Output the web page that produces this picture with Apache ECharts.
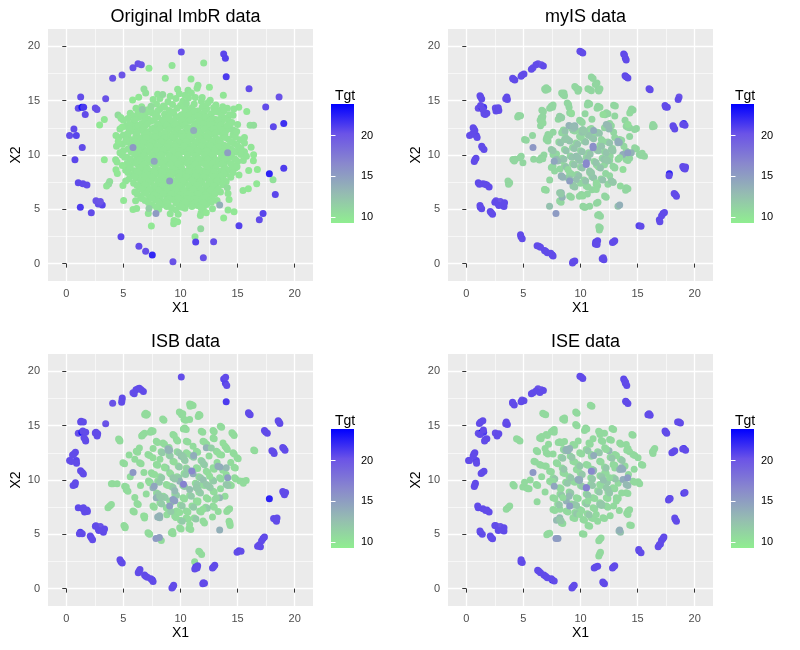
<!DOCTYPE html>
<html>
<head>
<meta charset="utf-8">
<title>ImbR scatter panels</title>
<script src="https://cdn.jsdelivr.net/npm/echarts@6/dist/echarts.min.js"></script>
<style>
  html, body { margin: 0; padding: 0; background: #fff; }
  #main { width: 800px; height: 650px; }
</style>
</head>
<body>
<div id="main"></div>
<script>
// ---- data ----
var panelTitles = ['Original ImbR data', 'myIS data', 'ISB data', 'ISE data'];
var axisTicks = [0, 5, 10, 15, 20];
var minorTicks = [2.5, 7.5, 12.5, 17.5];
var legendTicks = [10, 15, 20];
var tgtRange = [9.27, 23.9];

// rare (high Tgt) originals, present in every panel: [X1, X2, Tgt]
var rarePts = [
  [10.07,19.48,20.5],[13.78,19.3,20.8],[13.93,18.9,21],[14.0,17.2,21.3],[6.28,18.4,20.3],
  [6.57,18.3,20.2],[5.84,18.04,20.4],[4.88,17.37,20.2],[4.06,17.06,20.3],[16.0,16.1,20.5],
  [18.63,15.35,20.3],[17.46,14.43,20.6],[18.13,12.59,20.7],[19.04,12.9,21.8],[19.04,8.79,21.2],
  [17.78,8.27,22.4],[18.3,6.37,20.8],[17.23,4.62,20.9],[16.9,4.04,20.6],[15.12,3.49,21],
  [12.9,2.02,20.4],[11.33,1.99,21],[12.0,0.55,20.3],[9.34,0.18,20.3],[7.53,0.8,22.2],
  [6.95,1.13,20.4],[6.36,1.59,20.5],[4.79,2.48,20.8],[2.19,4.69,20.6],[1.23,5.18,21.3],
  [3.15,5.39,20.9],[2.8,5.5,20.5],[2.6,5.79,20.3],[2.98,5.72,20.2],[1.81,7.23,20.5],
  [1.46,7.35,20.6],[1.05,7.44,20.7],[0.76,9.56,20.8],[1.4,10.69,20.6],[0.29,11.79,20.5],
  [0.88,11.79,20.9],[0.67,12.4,20.6],[1.66,13.72,20.6],[1.05,14.3,20.4],[1.37,14.4,23.2],
  [1.52,14.4,21.4],[1.26,15.34,20.5],[2.54,14.33,20.4],[2.69,14.18,20.4],[3.45,15.19,20.3]
];
// medium Tgt originals
var midPts = [
  [5.84,10.69,15.5],[13.43,5.39,13.8],[7.85,4.62,15.2],[11.15,12.25,14],
  [7.7,9.43,14.5],[9.05,7.6,15],[14.13,10.2,15]
];

// --- Original ImbR ---
var imbrEdge = [
  [12.03,18.47,10],[9.26,18.25,10],[7.24,17.98,9.8],[8.67,17.06,10],[10.92,17.0,9.9],
  [11.53,16.42,10.1],[11.45,16.14,10],[12.53,16.23,9.8],[9.75,16.05,10],[10.66,15.96,10.1],
  [10.95,15.71,10],[6.8,16.08,10.4],[6.95,15.71,10.2],[6.34,15.31,9.8],[5.81,15.07,9.7],
  [8.44,15.56,10.6],[13.75,15.5,9.9],[11.83,14.95,10],[10.51,14.73,10.1],[15.1,14.4,9.8],
  [14.66,14.24,10],[15.8,14.0,9.8],[7.42,14.49,10.5],[6.66,14.18,12],[4.53,13.69,10.6],
  [4.77,13.45,10],[3.33,13.26,9.8],[2.92,12.77,9.7],[16.09,12.74,10.2],[16.4,12.74,10.5],
  [14.1,12.71,10],[14.63,12.28,10.1],[14.92,12.16,10],[4.88,12.56,9.8],[4.35,11.79,9.9],
  [4.55,11.27,9.8],[5.23,11.42,10],[16.18,10.72,9.9],[16.4,10.02,9.8],[15.77,9.89,10],
  [16.38,9.46,9.8],[15.97,8.58,9.8],[16.73,8.67,9.7],[14.95,8.91,10],[15.12,8.15,9.9],
  [16.67,7.35,9.8],[15.94,6.89,9.7],[15.47,6.74,9.9],[18.1,7.72,10.2],[14.1,6.98,10.4],
  [14.16,6.46,10],[14.25,5.91,9.8],[14.69,4.78,9.8],[14.16,4.93,9.9],[13.78,4.2,9.7],
  [12.26,4.69,9.8],[11.74,4.44,10],[11.77,3.22,10.8],[11.27,2.48,9.9],[9.43,3.98,9.8],
  [9.4,3.68,9.9],[9.75,3.86,9.8],[7.45,3.46,9.7],[7.18,4.62,10],[7.24,5.08,11.5],
  [5.84,4.99,9.8],[5.02,5.82,9.8],[6.07,5.79,10],[6.16,5.08,9.9],[4.96,7.2,9.8],
  [3.71,7.32,10.8],[3.53,7.14,10],[3.8,7.57,10.4],[4.47,8.3,9.8],[3.33,9.56,9.7],
  [4.32,9.56,10],[4.35,8.64,9.8],[4.44,9.35,9.9],[5.11,9.8,10],[4.91,9.04,9.8],[4.82,13.35,10]
];
var imbrCoreTgt = 10.0;
var imbrCore = [
  [7.6,15.1],[8.9,14.9],[9.6,15.2],[10.2,14.95],[12.6,15.05],[9.1,15.4],[11.3,15.3],
  [7.9,14.7],[8.5,14.5],[9.3,14.65],[10.0,14.55],[11.2,14.7],[12.0,14.5],[13.1,14.6],[12.4,14.8],
  [6.1,14.3],[7.0,14.15],[8.2,14.25],[9.0,14.1],[9.7,14.3],[10.6,14.2],[11.5,14.05],[12.3,14.25],[13.4,14.1],[14.1,14.3],
  [5.6,13.85],[6.9,13.7],[7.5,13.9],[8.6,13.75],[9.4,13.85],[10.1,13.7],[10.9,13.9],[11.8,13.75],[12.7,13.8],[13.3,13.95],[14.3,13.7],
  [5.4,13.35],[6.3,13.45],[7.2,13.3],[8.0,13.5],[8.8,13.35],[9.6,13.45],[10.4,13.3],[11.1,13.5],[11.9,13.35],[12.5,13.45],[13.0,13.3],[13.9,13.4],
  [5.9,13.05],[6.6,12.9],[7.4,13.1],[8.3,12.95],[9.1,13.05],[9.9,12.9],[10.7,13.1],[11.4,12.95],[12.2,13.05],[12.9,12.9],[13.6,13.05],[14.5,13.0],
  [5.2,12.65],[6.0,12.55],[6.9,12.7],[7.7,12.5],[8.5,12.65],[9.3,12.55],[10.1,12.7],[10.8,12.5],[11.6,12.65],[12.4,12.55],[13.2,12.7],[13.8,12.5],
  [5.7,12.2],[6.4,12.3],[7.2,12.15],[8.0,12.25],[8.8,12.1],[9.6,12.3],[10.4,12.15],[11.0,12.3],[11.8,12.1],[12.6,12.25],[13.4,12.15],[14.0,12.3],
  [5.0,11.85],[6.1,11.75],[6.8,11.9],[7.5,11.7],[8.3,11.85],[9.1,11.75],[9.9,11.9],[10.6,11.7],[11.4,11.85],[12.1,11.75],[12.9,11.9],[13.7,11.7],[14.6,11.85],
  [5.8,11.4],[6.5,11.5],[7.2,11.35],[8.0,11.45],[8.7,11.3],[9.5,11.5],[10.2,11.35],[11.0,11.45],[11.7,11.3],[12.5,11.5],[13.3,11.35],[14.2,11.45],[15.2,11.4],
  [4.9,11.0],[5.6,11.1],[6.3,10.95],[7.0,11.05],[7.8,10.9],[8.5,11.1],[9.3,10.95],[10.0,11.05],[10.8,10.9],[11.5,11.1],[12.3,10.95],[13.0,11.05],[13.8,10.9],[14.7,11.05],
  [5.4,10.55],[6.1,10.65],[6.8,10.5],[7.5,10.7],[8.3,10.55],[9.0,10.65],[9.8,10.5],[10.5,10.7],[11.3,10.55],[12.0,10.65],[12.8,10.5],[13.5,10.7],[14.4,10.55],[15.3,10.6],
  [4.7,10.2],[5.7,10.25],[6.5,10.1],[7.2,10.3],[8.0,10.15],[8.7,10.25],[9.5,10.1],[10.3,10.3],[11.0,10.15],[11.8,10.25],[12.5,10.1],[13.3,10.3],[14.0,10.15],[14.9,10.25],
  [5.3,9.8],[6.2,9.7],[6.9,9.85],[7.6,9.75],[8.4,9.9],[9.1,9.7],[9.9,9.85],[10.6,9.75],[11.4,9.9],[12.1,9.7],[12.9,9.85],[13.6,9.75],[14.5,9.8],
  [5.9,9.4],[6.6,9.5],[7.3,9.35],[8.1,9.45],[8.8,9.3],[9.6,9.5],[10.3,9.35],[11.1,9.45],[11.8,9.3],[12.6,9.5],[13.3,9.35],[14.1,9.45],[15.0,9.4],
  [5.6,9.0],[6.3,9.1],[7.0,8.95],[7.8,9.05],[8.5,8.9],[9.3,9.1],[10.0,8.95],[10.8,9.05],[11.5,8.9],[12.3,9.1],[13.0,8.95],[13.8,9.05],[14.6,9.0],
  [5.2,8.6],[6.0,8.55],[6.7,8.7],[7.4,8.5],[8.2,8.65],[8.9,8.55],[9.7,8.7],[10.4,8.5],[11.2,8.65],[11.9,8.55],[12.7,8.7],[13.5,8.5],[14.3,8.6],
  [5.8,8.2],[6.5,8.3],[7.2,8.15],[7.9,8.25],[8.7,8.1],[9.4,8.3],[10.2,8.15],[10.9,8.25],[11.7,8.1],[12.4,8.3],[13.2,8.15],[14.0,8.25],
  [5.5,7.8],[6.2,7.9],[7.0,7.75],[7.7,7.85],[8.4,7.7],[9.2,7.9],[9.9,7.75],[10.7,7.85],[11.4,7.7],[12.2,7.9],[12.9,7.75],[13.7,7.85],
  [5.9,7.4],[6.7,7.35],[7.4,7.5],[8.1,7.3],[8.9,7.45],[9.6,7.35],[10.4,7.5],[11.1,7.3],[11.9,7.45],[12.6,7.35],[13.4,7.5],
  [6.4,7.0],[7.1,7.1],[7.9,6.95],[8.6,7.05],[9.3,6.9],[10.1,7.1],[10.8,6.95],[11.6,7.05],[12.3,6.9],[13.1,7.05],
  [6.0,6.6],[6.8,6.7],[7.6,6.55],[8.3,6.65],[9.0,6.5],[9.8,6.7],[10.5,6.55],[11.3,6.65],[12.0,6.5],[12.8,6.7],[13.5,6.6],
  [6.5,6.2],[7.3,6.15],[8.0,6.3],[8.8,6.1],[9.5,6.25],[10.3,6.15],[11.0,6.3],[11.8,6.1],[12.5,6.25],
  [6.9,5.8],[7.8,5.85],[8.6,5.7],[9.3,5.9],[10.1,5.75],[10.9,5.85],[11.6,5.7],[12.4,5.9],[13.2,5.8],
  [7.5,5.4],[8.4,5.45],[9.9,5.35],[10.7,5.5],[11.5,5.35],[12.3,5.45],
  [8.1,5.0],[9.6,4.95],[10.4,5.1],[12.0,5.0],[12.8,5.05],
  [9.1,4.6],[9.8,4.55],[11.8,4.65]
];
// second pass over the dense centre of the original data
var imbrFill = [
  [6.6,14.45],[7.4,14.35],[8.6,14.4],[10.3,14.45],[11.0,14.35],[11.9,14.4],[12.9,14.35],[13.7,14.45],
  [6.3,13.95],[7.2,14.0],[8.0,14.05],[9.3,13.95],[10.4,14.0],[11.2,14.05],[12.1,13.95],[13.0,14.0],[13.8,14.05],
  [5.9,13.6],[6.6,13.55],[7.8,13.65],[9.0,13.6],[9.9,13.55],[10.7,13.65],[11.5,13.6],[12.2,13.55],[13.6,13.6],[14.6,13.65],
  [5.0,13.2],[6.0,13.25],[6.9,13.15],[7.7,13.2],[8.5,13.25],[9.4,13.15],[10.1,13.2],[10.9,13.25],[11.6,13.15],[12.6,13.2],[13.3,13.25],[14.2,13.15],
  [5.5,12.8],[6.3,12.75],[7.1,12.85],[8.0,12.8],[8.8,12.75],[9.6,12.85],[10.4,12.8],[11.2,12.75],[12.0,12.85],[12.7,12.8],[13.5,12.75],[14.3,12.85],[15.0,12.8],
  [4.7,12.4],[5.5,12.45],[6.7,12.35],[7.5,12.4],[8.2,12.45],[9.0,12.35],[9.8,12.4],[10.6,12.45],[11.3,12.35],[12.1,12.4],[12.9,12.45],[13.6,12.35],[14.4,12.4],
  [5.4,12.0],[6.2,12.05],[7.0,11.95],[7.8,12.0],[8.6,12.05],[9.4,11.95],[10.1,12.0],[10.9,12.05],[11.6,11.95],[12.4,12.0],[13.1,12.05],[13.9,11.95],[14.8,12.0],
  [4.6,11.6],[5.4,11.65],[6.4,11.55],[7.0,11.6],[7.8,11.65],[8.6,11.55],[9.3,11.6],[10.1,11.65],[10.8,11.55],[11.6,11.6],[12.3,11.65],[13.1,11.55],[13.9,11.6],[14.8,11.65],[15.6,11.6],
  [5.2,11.2],[6.0,11.25],[6.7,11.15],[7.5,11.2],[8.3,11.25],[9.0,11.15],[9.8,11.2],[10.5,11.25],[11.3,11.15],[12.0,11.2],[12.8,11.25],[13.5,11.15],[14.4,11.2],[15.6,11.1],
  [4.4,10.8],[5.9,10.85],[6.6,10.75],[7.3,10.8],[8.0,10.85],[8.8,10.75],[9.6,10.8],[10.3,10.85],[11.1,10.75],[11.8,10.8],[12.6,10.85],[13.3,10.75],[14.1,10.8],[15.0,10.85],
  [5.0,10.4],[6.3,10.45],[7.0,10.35],[7.8,10.4],[8.5,10.45],[9.3,10.35],[10.0,10.4],[10.8,10.45],[11.5,10.35],[12.3,10.4],[13.0,10.45],[13.8,10.35],[14.6,10.4],[15.6,10.3],
  [4.9,10.0],[6.0,10.05],[6.8,9.95],[7.5,10.0],[8.3,10.05],[9.0,9.95],[9.8,10.0],[10.6,10.05],[11.3,9.95],[12.1,10.0],[12.8,10.05],[13.6,9.95],[14.4,10.0],[15.3,10.05],
  [5.6,9.6],[6.4,9.55],[7.1,9.65],[7.9,9.6],[8.6,9.55],[9.4,9.65],[10.1,9.6],[10.9,9.55],[11.6,9.65],[12.4,9.6],[13.1,9.55],[13.9,9.65],[14.8,9.6],[15.5,9.5],
  [5.3,9.2],[6.1,9.25],[6.8,9.15],[7.6,9.2],[8.3,9.25],[9.1,9.15],[9.8,9.2],[10.6,9.25],[11.3,9.15],[12.1,9.2],[12.8,9.25],[13.6,9.15],[14.4,9.2],
  [5.6,8.8],[6.4,8.85],[7.1,8.75],[7.8,8.8],[8.6,8.85],[9.3,8.75],[10.1,8.8],[10.8,8.85],[11.6,8.75],[12.3,8.8],[13.1,8.85],[13.9,8.75],[14.8,8.8],
  [5.4,8.4],[6.2,8.45],[6.9,8.35],[7.7,8.4],[8.4,8.45],[9.2,8.35],[9.9,8.4],[10.7,8.45],[11.4,8.35],[12.2,8.4],[12.9,8.45],[13.8,8.35],[14.6,8.4],
  [6.0,8.0],[6.8,8.05],[7.5,7.95],[8.3,8.0],[9.0,8.05],[9.8,7.95],[10.5,8.0],[11.3,8.05],[12.0,7.95],[12.8,8.0],[13.5,8.05],[14.4,7.95],
  [5.2,7.6],[6.5,7.65],[7.2,7.55],[8.0,7.6],[8.7,7.65],[9.5,7.55],[10.2,7.6],[11.0,7.65],[11.7,7.55],[12.5,7.6],[13.2,7.65],[14.0,7.55],
  [6.2,7.2],[6.9,7.25],[7.7,7.15],[8.4,7.2],[9.2,7.25],[9.9,7.15],[10.7,7.2],[11.4,7.25],[12.2,7.15],[12.9,7.2],[13.7,7.25],
  [6.6,6.85],[7.3,6.8],[8.1,6.75],[8.8,6.85],[9.6,6.8],[10.3,6.75],[11.1,6.85],[11.8,6.8],[12.6,6.75],[13.3,6.85],
  [6.2,6.4],[7.0,6.45],[7.7,6.35],[8.5,6.4],[9.2,6.45],[10.0,6.35],[10.7,6.4],[11.5,6.45],[12.2,6.35],[13.0,6.4],
  [6.6,6.0],[7.5,6.05],[8.2,5.95],[9.0,6.0],[9.8,6.05],[10.6,5.95],[11.3,6.0],[12.1,6.05],[12.8,5.95],
  [7.2,5.6],[8.1,5.65],[8.9,5.55],[9.6,5.6],[10.4,5.65],[11.2,5.55],[12.0,5.6],[12.7,5.65],
  [7.9,5.2],[8.8,5.25],[9.2,5.15],[10.1,5.2],[11.0,5.25],[11.8,5.15],
  [8.2,15.2],[10.7,15.25],[11.9,15.3],[8.0,15.6],[9.9,15.65],[10.4,15.5]
];

// --- myIS ---
var nearTgt = 20.6;
var myisNear = [
  [10.2,19.4],[9.95,19.55],[13.85,19.2],[14.0,18.75],[14.15,17.1],[13.9,17.3],[6.1,18.3],[6.75,18.2],
  [5.7,17.9],[5.05,17.45],[4.8,17.25],[4.25,16.9],[4.1,17.0],[16.1,16.0],[18.55,15.1],[17.6,14.4],
  [17.4,14.55],[18.25,12.4],[18.1,12.7],[19.15,12.75],[18.95,12.8],[19.15,8.7],[18.95,8.95],[19.2,8.9],
  [17.75,8.1],[18.4,6.2],[18.2,6.45],[17.1,4.4],[17.35,4.7],[16.95,3.85],[15.3,3.45],[13.0,2.1],
  [12.8,1.95],[11.5,2.1],[11.3,1.8],[11.45,1.75],[12.05,0.35],[11.9,0.45],[9.5,0.25],[9.3,0.05],
  [7.6,0.7],[7.4,0.95],[7.1,1.0],[6.85,1.2],[6.5,1.5],[6.2,1.65],[4.9,2.3],[4.75,2.65],
  [2.3,4.55],[2.1,4.8],[1.35,5.05],[1.2,5.35],[3.3,5.25],[2.85,5.35],[3.35,5.6],[2.5,5.65],
  [2.0,7.05],[1.65,7.3],[1.15,7.3],[0.85,9.7],[0.7,9.4],[1.55,10.5],[1.35,10.8],[0.5,11.9],
  [0.95,11.6],[0.75,12.25],[0.6,12.5],[1.8,13.85],[1.55,13.8],[1.25,14.55],[1.45,14.2],[1.35,15.15],
  [1.2,15.45],[2.85,14.1],[2.6,14.05],[2.8,14.35],[3.6,15.1],[3.55,15.35]
];
var myisCoreTgt = 11.0;
var myisCore = [
  [10.95,17.18],[11.44,16.63],[11.53,16.02],[11.6,15.9],[10.8,16.02],[10.95,15.92],[9.63,16.17],[9.78,15.87],
  [9.85,16.05],[6.86,16.08],[7.0,16.2],[6.95,15.95],[8.46,15.56],[8.35,15.7],[8.6,15.45],[10.65,14.79],
  [10.6,14.6],[8.84,14.79],[12.9,14.58],[14.47,14.24],[14.4,14.05],[12.26,13.88],[12.15,13.7],[7.44,14.49],
  [7.3,14.3],[7.55,14.4],[6.62,14.11],[6.56,13.42],[6.47,13.2],[6.7,13.55],[8.17,13.51],[8.05,13.3],
  [9.05,13.88],[11.53,14.49],[11.45,14.3],[4.58,13.63],[4.75,13.62],[9.92,13.2],[10.15,13.0],[10.8,12.35],
  [11.24,12.1],[12.4,12.8],[12.7,12.7],[14.0,12.65],[14.74,12.35],[14.3,12.5],[16.34,12.8],[16.3,12.6],
  [16.45,12.65],[5.1,11.43],[7.15,11.89],[7.05,11.6],[8.46,12.19],[8.6,11.95],[9.34,12.28],[9.92,11.73],
  [11.82,11.43],[13.43,11.43],[14.74,10.66],[14.0,10.36],[15.15,10.05],[15.6,9.89],[15.4,10.15],[4.08,9.59],
  [4.81,9.89],[4.96,9.28],[4.3,9.6],[6.56,9.74],[6.4,9.55],[7.59,10.05],[8.17,9.59],[11.38,9.13],
  [12.4,9.59],[12.84,8.97],[14.0,9.59],[14.3,9.7],[7.59,8.97],[7.73,8.52],[9.05,8.36],[10.5,7.14],
  [11.38,7.29],[12.69,7.6],[12.55,8.1],[3.65,7.6],[3.7,7.3],[6.86,6.83],[9.05,6.22],[10.07,6.37],
  [12.11,6.22],[14.0,6.98],[13.95,6.75],[8.17,5.76],[10.21,5.29],[10.8,5.29],[11.53,5.66],[11.61,4.53],
  [11.73,3.31],[11.65,3.1],[11.75,4.35],[10.4,5.2],
  [8.5,12.3],[9.2,12.5],[10.0,12.2],[10.6,11.9],[11.5,12.1],[12.1,12.5],[12.9,12.1],[8.1,11.2],
  [8.9,11.4],[9.6,11.1],[10.3,11.3],[11.0,11.6],[11.7,10.9],[12.4,11.2],[13.0,11.6],[8.6,10.5],
  [9.3,10.7],[10.0,10.4],[10.7,10.2],[11.4,10.5],[12.1,10.3],[12.8,10.6],[7.9,10.1],[8.4,9.7],
  [9.1,9.9],[9.8,9.6],[10.5,9.8],[11.2,9.4],[11.9,9.7],[12.6,9.9],[13.3,9.6],[8.6,9.0],
  [9.3,9.2],[10.0,8.9],[10.8,8.4],[11.6,8.9],[12.2,8.3],[13.0,8.8],[8.2,8.7],[8.9,7.9],
  [9.7,8.2],[10.3,7.7],[11.0,8.0],[11.8,7.8],[12.4,7.3],[9.4,7.2],[10.0,7.4],[9.9,6.2],
  [10.6,6.4],[11.0,6.8],[5.8,11.8],[6.5,12.7],[7.6,12.1],[5.9,9.6],[6.8,10.0],[7.3,7.7],
  [13.8,10.8],[14.3,11.7],[13.9,13.2],[13.0,13.6],[10.4,13.8],[11.0,13.3],[9.0,14.4],[12.1,9.1],
  [11.1,17.05],[11.3,16.5],[11.7,16.1],[10.65,16.1],[9.5,16.3],[7.15,16.05],[8.55,15.7],[10.8,14.7],
  [8.95,14.65],[13.05,14.5],[14.6,14.15],[12.4,13.8],[7.6,14.6],[6.75,14.0],[6.65,13.3],[8.3,13.4],
  [9.2,13.8],[11.7,14.4],[4.5,13.5],[10.05,13.1],[10.95,12.45],[11.4,12.0],[12.55,12.9],[14.15,12.55],
  [14.9,12.45],[5.25,11.35],[7.3,11.8],[8.35,12.05],[9.5,12.2],[10.05,11.6],[11.95,11.3],[13.6,11.35],
  [14.9,10.55],[14.15,10.25],[15.3,9.95],[4.2,9.45],[4.7,9.75],[6.7,9.65],[7.75,9.95],[8.3,9.5],
  [11.5,9.0],[12.55,9.5],[13.0,8.85],[14.15,9.5],[7.45,8.85],[9.2,8.25],[10.65,7.05],[11.5,7.2],
  [12.85,7.5],[3.8,7.45],[7.0,6.75],[9.2,6.1],[10.2,6.3],[12.25,6.1],[14.15,6.9],[8.3,5.65],
  [10.35,5.2],[11.4,5.55],[11.5,4.45],[11.6,3.4]
];
var myisTealTgt = 12.3;
var myisTeal = [
  [8.65,12.2],[9.35,12.4],[10.15,12.1],[10.75,11.8],[11.65,12.0],[8.25,11.1],[9.05,11.3],[9.75,11.0],
  [10.45,11.2],[11.15,11.5],[11.85,10.8],[12.55,11.1],[8.75,10.4],[9.45,10.6],[10.15,10.3],[10.85,10.1],
  [11.55,10.4],[12.25,10.2],[8.55,9.6],[9.25,9.8],[9.95,9.5],[10.65,9.7],[11.35,9.3],[12.05,9.6],
  [8.75,8.9],[9.45,9.1],[10.15,8.8],[10.95,8.3],[11.75,8.8],[9.05,7.8],[9.85,8.1],[10.45,7.6],
  [11.15,7.9],[11.95,7.7]
];
var myisGrey = [
  [8.99,12.71,13.5],[13.28,11.12,13],[9.63,9.89,12.5],[8.32,8.06,13],[9.63,7.75,12.5],[8.32,6.52,13],
  [7.29,5.29,12.5],[13.28,5.29,12.5],[13.7,10.05,14],[9.5,12.7,13.5],[12.5,12.4,13],[10.5,9.13,16.5],
  [11.1,10.66,16],[8.4,6.1,13.5],
  [8.17,13.57,11.5],[8.35,13.45,11.5],[9.2,13.87,10.5],[9.34,12.65,13],[9.5,12.55,13],[12.26,12.8,13],
  [12.45,12.7,13],[11.97,13.72,10.5],[14.16,12.8,10.5],[7.0,11.42,11],[7.15,11.3,11],[8.6,11.42,12],
  [8.75,11.55,12],[10.2,12.34,12],[10.35,12.2,12],[11.1,10.81,16],[13.28,11.27,14],[13.4,11.15,14],
  [14.45,10.2,13.5],[12.7,10.5,12],[12.85,10.4,12],[9.64,9.89,12.5],[9.8,9.75,12.5],[10.51,9.28,16.5],
  [7.88,9.59,13],[8.0,9.45,13],[12.26,9.59,12],[12.4,9.45,12],[13.72,8.67,10.5],[8.32,8.06,13.5],
  [8.45,7.95,13.5],[9.34,7.14,12],[9.5,7.05,12],[11.38,7.45,10.8],[12.7,7.6,12],[12.85,7.5,12],
  [8.17,6.52,12],[8.3,6.4,12],[10.2,6.22,10.8],[11.38,6.83,10.8],[6.86,6.83,10.8],[13.49,7.14,10.8],
  [6.72,12.95,10.8],[14.31,13.87,10.8],[7.44,10.5,12],[7.6,10.4,12],[8.9,8.67,10.8],[10.8,8.52,12],
  [10.95,8.4,12],[13.43,9.74,10.8]
];

// --- ISB ---
var isbNear = [
  [13.95,19.45],[14.05,18.7],[6.1,18.3],[6.75,18.15],[5.95,17.95],[6.4,18.45],[4.9,17.55],[4.85,17.15],
  [16.1,16.0],[15.95,16.2],[18.7,15.2],[18.55,15.45],[17.6,14.3],[17.35,14.55],[18.2,12.45],[18.0,12.7],
  [19.15,12.75],[18.95,13.0],[19.1,8.65],[18.95,8.95],[19.2,8.85],[18.4,6.2],[18.15,6.45],[18.45,6.5],
  [17.1,4.4],[17.35,4.75],[16.75,3.9],[17.0,3.85],[15.3,3.45],[14.95,3.35],[13.0,2.15],[12.8,1.9],
  [11.5,2.1],[11.25,1.8],[11.45,1.9],[11.95,0.45],[12.1,0.5],[9.25,0.05],[9.4,0.3],[7.6,0.65],
  [7.4,0.9],[7.1,1.05],[6.85,1.25],[6.45,1.75],[6.3,1.45],[4.9,2.35],[4.7,2.65],[2.3,4.5],
  [2.1,4.85],[1.4,5.05],[1.15,5.05],[3.25,5.2],[3.35,5.5],[2.85,5.35],[2.55,5.75],[1.6,7.05],
  [1.85,7.1],[1.5,7.45],[0.6,9.5],[0.8,9.75],[1.5,10.55],[1.25,10.85],[0.45,11.7],[0.9,11.55],
  [0.8,12.55],[0.55,12.3],[1.7,13.6],[1.55,13.9],[1.45,14.5],[1.7,14.4],[1.3,15.4],[1.5,15.35],
  [2.7,14.05],[2.6,14.4],[2.75,14.25]
];
var isbCoreTgt = 10.6;
var isbCore = [
  [10.95,16.94],[10.8,17.0],[11.1,16.85],[10.01,16.17],[10.1,16.0],[9.9,16.25],[11.62,16.02],[11.55,15.85],
  [6.86,16.02],[7.0,15.95],[6.95,16.15],[8.44,15.62],[10.3,15.6],[10.8,15.56],[13.49,14.95],[11.82,14.49],
  [10.37,14.79],[10.5,14.65],[7.45,14.55],[7.6,14.5],[7.35,14.4],[9.34,14.18],[6.72,14.18],[6.85,14.3],
  [6.6,14.05],[12.85,14.55],[14.6,14.24],[14.7,14.1],[14.5,14.35],[4.58,13.78],[4.7,13.6],[7.88,13.57],
  [8.47,13.41],[9.64,13.72],[10.51,13.57],[11.97,13.57],[12.85,13.87],[14.01,12.96],[14.1,12.8],[13.9,13.1],
  [16.41,12.77],[6.13,12.65],[6.4,12.95],[7.15,12.34],[10.51,12.5],[11.39,12.65],[13.14,12.65],[14.6,12.5],
  [14.95,12.04],[4.96,11.58],[6.42,11.58],[7.88,11.42],[9.34,11.73],[11.39,11.12],[12.85,11.12],[14.69,11.18],
  [7.45,10.66],[9.05,10.66],[12.26,10.81],[13.43,10.2],[14.74,10.2],[15.47,9.89],[15.2,9.9],[15.75,9.95],
  [15.5,9.7],[4.09,9.65],[3.95,9.65],[4.45,9.65],[5.11,9.43],[5.4,8.97],[5.25,9.1],[8.76,9.59],
  [11.97,9.59],[12.85,8.97],[14.31,9.59],[9.05,8.06],[10.22,8.36],[11.39,8.06],[12.26,8.36],[3.8,7.6],
  [3.65,7.45],[3.95,7.75],[6.19,7.84],[7.59,7.6],[8.76,7.44],[9.64,7.14],[10.51,7.14],[11.68,7.14],
  [12.85,7.6],[14.16,7.23],[14.05,7.1],[14.3,7.35],[5.84,7.14],[6.77,6.68],[6.85,6.5],[9.49,6.68],
  [10.51,6.52],[11.97,6.22],[12.1,6.05],[14.31,6.0],[14.25,6.2],[14.35,5.8],[5.05,5.82],[5.15,5.6],
  [9.93,5.6],[10.74,5.54],[10.9,5.45],[7.15,5.15],[7.3,5.0],[8.32,4.44],[9.2,5.15],[9.35,5.05],
  [11.68,3.37],[11.6,3.45],[11.85,3.15],[11.24,2.48],
  [8.3,12.6],[9.0,12.3],[9.7,12.6],[10.3,11.9],[11.0,12.2],[11.8,11.8],[12.5,12.2],[8.2,11.9],
  [8.6,11.2],[9.8,11.3],[10.5,11.1],[12.0,11.5],[13.2,11.6],[6.8,10.7],[8.2,10.3],[9.7,10.3],
  [10.3,10.6],[11.6,10.3],[12.8,10.0],[14.0,10.5],[6.5,9.5],[7.2,9.9],[8.0,9.9],[9.2,9.4],
  [10.2,9.5],[11.3,9.7],[12.5,9.4],[13.5,9.2],[7.0,8.7],[7.9,8.8],[8.5,8.5],[9.5,8.7],
  [10.8,8.6],[11.6,8.9],[13.0,8.2],[13.9,8.5],[8.2,7.9],[9.0,7.2],[10.0,7.7],[11.0,7.6],
  [12.2,7.5],[13.3,7.1],[8.8,6.8],[10.0,6.3],[11.2,6.5],[12.8,6.6],[13.7,10.9],[5.6,10.3],
  [6.0,8.4],[7.6,12.9],[9.0,13.0],[11.1,13.1],[12.3,13.3],[13.6,12.3],[14.4,11.6],[6.0,11.9],[5.5,12.3],
  [10.85,16.8],[10.2,16.1],[11.7,15.95],[7.1,16.05],[8.55,15.5],[10.45,15.5],[13.6,14.85],[11.95,14.4],
  [10.25,14.7],[7.5,14.45],[9.45,14.1],[6.65,14.1],[12.95,14.45],[4.65,13.7],[8.0,13.45],[8.6,13.3],
  [9.75,13.6],[10.65,13.5],[12.1,13.5],[12.95,13.8],[16.5,12.7],[6.25,12.55],[7.3,12.25],[10.65,12.4],
  [11.5,12.55],[13.25,12.55],[14.7,12.4],[15.05,11.95],[5.1,11.5],[6.55,11.5],[8.0,11.35],[9.45,11.65],
  [11.5,11.05],[12.95,11.0],[14.8,11.1],[7.55,10.55],[9.15,10.55],[12.4,10.7],[13.55,10.1],[14.85,10.1],
  [5.25,9.35],[8.9,9.5],[12.1,9.5],[12.95,8.9],[14.45,9.5],[9.2,7.95],[10.35,8.25],[11.5,7.95],
  [12.4,8.25],[6.3,7.75],[7.7,7.5],[8.9,7.35],[9.75,7.05],[10.65,7.05],[11.8,7.05],[12.95,7.5],
  [5.95,7.05],[9.6,6.55],[10.65,6.4],[5.15,5.7],[10.05,5.5],[7.25,5.05],[9.3,5.25]
];
var isbTealTgt = 11.8;
var isbTeal = [
  [8.4,12.5],[9.1,12.2],[9.85,12.5],[10.4,11.8],[11.15,12.1],[11.9,11.7],[8.75,11.1],[9.9,11.2],
  [10.6,11.0],[12.1,11.4],[8.35,10.2],[9.85,10.2],[10.45,10.5],[11.75,10.2],[12.9,9.9],[7.35,9.8],
  [8.15,9.8],[9.35,9.3],[10.35,9.4],[11.45,9.6],[12.6,9.3],[8.05,8.7],[8.65,8.4],[9.65,8.6],
  [10.95,8.5],[11.75,8.8],[8.35,7.8],[9.15,7.1],[10.15,7.6],[11.15,7.5],[12.35,7.4],[10.15,6.2],[11.35,6.4]
];
var isbGrey = [
  [8.91,12.71,13],[12.26,12.96,13.5],[10.07,12.19,13.5],[14.01,11.12,13],[11.1,10.57,14],[7.59,9.28,13.5],
  [9.93,9.89,13.5],[10.8,9.13,12.5],[7.88,8.36,13.5],[13.43,8.36,13],[8.18,6.52,13],[8.15,4.7,15],
  [12.0,10.0,12.5],[9.5,9.0,13],
  [8.9,12.87,13.5],[9.05,12.75,13.5],[10.1,12.28,12],[10.25,12.15,12],[10.99,10.83,16.5],[10.26,9.6,17],
  [9.34,8.21,15],[9.5,8.1,15],[8.17,6.7,13.5],[8.0,6.6,13.5],[12.26,9.59,12],[12.4,9.5,12],
  [13.28,11.27,14],[13.45,11.2,14],[12.7,12.95,11.5],[13.72,13.4,10.5],[7.59,12.04,10.5],[7.3,9.74,10.5],
  [8.17,8.52,12],[8.3,8.4,12],[9.93,7.0,10.5],[11.53,8.06,10.5],[13.14,8.36,11],[14.31,6.06,10.5],
  [6.86,6.67,10.5],[10.8,5.9,10.5],[11.97,7.3,10.5],[14.0,9.59,12],[14.15,9.5,12],[12.55,10.35,10.5],
  [8.61,11.12,10.5],[9.34,10.2,12],[9.5,10.1,12],[11.38,9.28,12],[11.55,9.15,12],[7.73,10.5,10.5],
  [13.43,12.35,10.5]
];

// --- ISE ---
var iseNear = [
  [10.2,19.35],[9.95,19.55],[13.85,19.15],[14.05,18.7],[13.95,19.0],[14.15,17.05],[13.95,17.25],[6.1,18.2],
  [6.75,18.25],[5.7,17.95],[6.45,18.05],[5.05,17.3],[4.8,17.2],[4.2,16.9],[4.05,17.15],[16.1,15.95],
  [15.9,16.0],[18.5,15.35],[18.75,15.25],[17.55,14.3],[17.4,14.5],[18.0,12.5],[18.25,12.7],[19.2,12.75],
  [18.95,12.85],[19.15,8.85],[17.7,8.15],[17.85,8.3],[18.4,6.2],[18.25,6.5],[17.1,4.45],[17.3,4.75],
  [16.8,3.85],[17.0,4.1],[15.3,3.3],[15.1,3.6],[13.0,2.1],[12.8,1.9],[11.5,2.05],[11.2,1.9],
  [12.1,0.45],[11.95,0.6],[9.45,0.3],[9.25,0.05],[7.7,0.7],[7.45,0.9],[7.1,1.0],[6.8,1.25],
  [6.5,1.45],[6.25,1.7],[4.9,2.4],[4.8,2.65],[2.3,4.6],[2.1,4.85],[1.4,5.0],[1.2,5.3],
  [3.3,5.3],[3.3,5.6],[2.5,5.8],[2.8,5.35],[2.0,7.05],[1.7,7.2],[1.0,7.6],[0.8,9.7],
  [0.7,9.4],[1.55,10.8],[1.3,10.6],[0.2,11.8],[0.9,11.55],[0.6,12.2],[0.75,12.5],[1.8,13.8],
  [1.6,13.6],[1.2,14.2],[1.5,14.6],[1.45,15.45],[1.15,15.2],[2.7,14.05],[2.85,14.25],[3.6,15.1],[3.5,15.35]
];
var iseCoreTgt = 10.8;
var iseCore = [
  [10.86,16.88],[9.58,16.26],[6.8,16.08],[6.95,16.0],[6.7,16.15],[8.44,15.62],[8.6,15.5],[9.58,15.1],
  [10.45,14.79],[10.35,14.55],[11.59,14.49],[11.7,14.2],[12.76,14.73],[14.6,14.12],[14.5,14.2],[7.59,14.55],
  [7.45,14.45],[7.7,14.65],[7.0,14.18],[4.53,13.72],[4.7,13.6],[4.4,13.8],[6.42,13.87],[6.6,14.0],
  [8.18,13.51],[8.05,13.45],[8.6,13.55],[9.34,13.26],[10.74,13.41],[11.82,13.63],[12.55,13.72],[13.43,13.41],
  [14.16,12.89],[14.05,12.75],[14.3,12.6],[16.41,12.77],[16.3,12.6],[16.5,12.9],[16.35,12.45],[6.13,12.71],
  [7.0,12.5],[9.93,12.5],[10.95,12.34],[12.12,12.96],[13.0,12.34],[14.6,12.34],[15.04,12.04],[5.93,11.73],
  [6.42,11.42],[7.88,11.58],[9.34,11.73],[10.51,11.42],[11.68,11.73],[12.85,11.42],[15.33,11.42],[7.3,10.81],
  [8.47,10.66],[9.64,10.96],[12.12,10.66],[14.6,9.89],[15.18,9.65],[15.05,9.85],[4.09,9.59],[4.2,9.45],
  [5.26,9.28],[4.95,9.35],[5.5,9.2],[6.13,9.59],[7.3,9.89],[8.18,9.28],[9.34,9.89],[11.68,9.59],
  [12.85,9.28],[14.01,8.82],[7.59,8.36],[9.64,8.36],[11.1,8.36],[12.26,8.36],[13.14,8.36],[3.65,7.44],
  [3.5,7.3],[3.8,7.6],[7.59,7.29],[8.76,7.14],[9.93,7.29],[11.1,7.44],[12.26,7.6],[14.16,7.14],
  [14.05,6.95],[14.3,7.25],[9.34,6.52],[10.22,6.37],[10.95,6.52],[11.97,6.52],[8.32,6.06],[10.16,5.05],
  [10.66,5.82],[14.31,5.85],[7.15,5.05],[7.3,5.1],[7.05,4.95],[11.68,4.53],[11.6,4.4],[11.8,4.65],
  [11.68,3.22],[11.6,3.0],[11.75,3.35],
  [8.5,12.8],[9.1,12.2],[10.5,12.8],[11.5,12.6],[12.6,12.1],[8.3,12.1],[7.6,12.4],[9.8,11.4],
  [11.0,11.0],[12.1,11.2],[13.5,11.9],[13.9,11.3],[6.9,11.3],[8.4,11.1],[9.0,10.3],[10.0,10.6],
  [10.9,10.2],[11.7,10.4],[12.9,10.2],[14.2,10.5],[6.6,10.3],[7.6,10.2],[8.7,9.8],[10.0,9.5],
  [10.9,9.6],[12.2,9.9],[13.3,9.7],[6.9,8.9],[8.2,8.7],[9.0,8.9],[10.5,8.7],[11.5,9.0],
  [12.4,8.9],[13.6,8.8],[8.0,7.8],[9.2,7.8],[10.4,7.9],[11.7,7.9],[12.9,7.6],[13.4,7.2],
  [8.2,7.3],[9.5,7.0],[10.6,6.9],[11.5,6.2],[12.6,6.7],[13.0,11.1],[5.6,10.0],[6.2,8.0],
  [7.2,13.3],[9.8,13.6],[11.1,13.8],[12.1,14.3],[6.9,12.9],[14.7,11.0],[5.1,9.8],
  [11.0,16.8],[9.7,16.15],[8.6,15.7],[9.7,15.0],[10.55,14.7],[11.7,14.4],[12.9,14.65],[7.7,14.4],
  [7.1,14.1],[6.55,13.8],[8.35,13.4],[9.5,13.2],[10.85,13.3],[11.95,13.55],[12.7,13.65],[13.55,13.3],
  [6.25,12.6],[7.15,12.4],[10.1,12.4],[11.1,12.25],[12.25,12.85],[13.15,12.25],[14.75,12.25],[6.05,11.65],
  [6.55,11.35],[8.0,11.5],[9.5,11.65],[10.65,11.35],[11.8,11.65],[13.0,11.35],[15.45,11.35],[7.45,10.75],
  [8.6,10.6],[9.8,10.9],[12.25,10.6],[14.75,9.8],[5.4,9.2],[6.25,9.5],[7.45,9.8],[8.3,9.2],
  [9.5,9.8],[11.8,9.5],[13.0,9.2],[14.15,8.75],[7.75,8.3],[9.8,8.3],[11.25,8.3],[12.4,8.3],
  [13.3,8.3],[7.75,7.2],[8.9,7.05],[10.1,7.2],[11.25,7.35],[12.4,7.5],[9.5,6.45],[10.35,6.3],
  [11.1,6.45],[12.1,6.45],[8.45,6.0],[10.3,5.0],[10.8,5.75],[14.45,5.8]
];
var iseTealTgt = 12.0;
var iseTeal = [
  [8.65,12.7],[9.25,12.1],[10.65,12.7],[11.65,12.5],[12.75,12.0],[8.45,12.0],[9.95,11.3],[11.15,10.9],
  [12.25,11.1],[13.65,11.8],[8.55,11.0],[9.15,10.2],[10.15,10.5],[11.05,10.1],[11.85,10.3],[13.05,10.1],
  [7.75,10.1],[8.85,9.7],[10.15,9.4],[11.05,9.5],[12.35,9.8],[8.35,8.6],[9.15,8.8],[10.65,8.6],
  [11.65,8.9],[12.55,8.8],[8.15,7.7],[9.35,7.7],[10.55,7.8],[11.85,7.8],[9.65,6.9],[10.75,6.8]
];
var iseGrey = [
  [9.05,12.9,13.5],[11.1,10.81,13.5],[13.43,10.96,13.5],[13.72,10.05,14],[9.93,10.05,13.5],[10.51,9.28,16.5],
  [8.76,8.06,13.5],[8.18,6.52,13],[8.03,4.62,15],[13.37,5.3,13],[13.5,5.2,12.5],[9.0,8.5,13],
  [12.5,12.7,13],[12.0,10.0,12.5],[7.9,6.3,13],
  [8.75,12.8,13.5],[8.9,12.7,13.5],[10.95,12.19,10.8],[10.95,10.81,16.5],[10.51,9.28,17],[9.78,10.05,14],
  [9.9,9.95,14],[13.57,11.12,14],[13.7,11.0,14],[12.26,9.28,12],[12.4,9.15,12],[8.46,8.36,10.8],
  [9.49,7.75,12],[9.65,7.65,12],[8.17,6.37,12],[8.3,6.25,12],[11.38,6.83,10.8],[13.14,8.06,10.8],
  [7.0,11.27,10.8],[7.59,9.89,10.8],[12.26,12.8,10.8],[14.01,13.26,10.8],[12.55,10.2,10.8],[9.93,6.83,10.8],
  [14.16,6.83,10.8],[10.65,8.06,10.8],[11.68,7.75,12],[11.85,7.65,12],[14.0,9.59,13],[14.15,9.5,13]
];

// ---- build ----
function withTgt(pts, t) {
  return pts.map(function (p) { return [p[0], p[1], t]; });
}
var panelData = [
  withTgt(imbrCore, imbrCoreTgt).concat(withTgt(imbrFill, imbrCoreTgt), imbrEdge, midPts, rarePts),
  withTgt(myisCore, myisCoreTgt).concat(withTgt(myisTeal, myisTealTgt), myisGrey, midPts, rarePts, withTgt(myisNear, nearTgt)),
  withTgt(isbCore, isbCoreTgt).concat(withTgt(isbTeal, isbTealTgt), isbGrey, midPts, rarePts, withTgt(isbNear, nearTgt)),
  withTgt(iseCore, iseCoreTgt).concat(withTgt(iseTeal, iseTealTgt), iseGrey, midPts, rarePts, withTgt(iseNear, nearTgt))
];

var rampColors = ['#90EE90', '#95BBB2', '#8988CD', '#6B53E7', '#0000FF'];
var font = 'Liberation Sans, Arial, Helvetica, sans-serif';

var grids = [], xAxes = [], yAxes = [], titles = [], series = [];
var xMinor = [], yMinor = [], xLeg = [], yLegR = [], yLegL = [];

for (var i = 0; i < 4; i++) {
  var ox = (i % 2) * 400, oy = Math.floor(i / 2) * 325;
  grids.push({ left: 48 + ox, top: 29 + oy, width: 265, height: 252,
    show: true, backgroundColor: '#EBEBEB', borderWidth: 0 });

  xAxes.push({
    type: 'value', gridIndex: i, min: -1.6, max: 21.6, position: 'bottom',
    name: 'X1', nameLocation: 'middle', nameGap: 20,
    nameTextStyle: { fontSize: 14, color: '#000', fontFamily: font },
    axisLine: { show: false },
    axisTick: { show: true, length: 4, customValues: axisTicks, lineStyle: { color: '#333', width: 1 } },
    axisLabel: { customValues: axisTicks, color: '#4D4D4D', fontSize: 11, margin: 7, fontFamily: font },
    splitLine: { show: true, lineStyle: { color: '#FFFFFF', width: 1.3 } }
  });
  yAxes.push({
    type: 'value', gridIndex: i, min: -1.6, max: 21.6, position: 'left',
    name: 'X2', nameLocation: 'middle', nameGap: 25, nameRotate: 90,
    nameTextStyle: { fontSize: 14, color: '#000', fontFamily: font },
    axisLine: { show: false },
    axisTick: { show: true, length: 4, customValues: axisTicks, lineStyle: { color: '#333', width: 1 } },
    axisLabel: { customValues: axisTicks, color: '#4D4D4D', fontSize: 11, margin: 8, fontFamily: font },
    splitLine: { show: true, lineStyle: { color: '#FFFFFF', width: 1.3 } }
  });
  xMinor.push({
    type: 'value', gridIndex: i, min: -1.6, max: 21.6, position: 'bottom',
    axisLine: { show: false }, axisLabel: { show: false },
    axisTick: { show: false, customValues: minorTicks },
    splitLine: { show: true, lineStyle: { color: '#FFFFFF', width: 0.6 } }
  });
  yMinor.push({
    type: 'value', gridIndex: i, min: -1.6, max: 21.6, position: 'left',
    axisLine: { show: false }, axisLabel: { show: false },
    axisTick: { show: false, customValues: minorTicks },
    splitLine: { show: true, lineStyle: { color: '#FFFFFF', width: 0.6 } }
  });

  // colourbar
  xLeg.push({ type: 'value', gridIndex: 4 + i, min: 0, max: 1, show: false });
  yLegR.push({
    type: 'value', gridIndex: 4 + i, min: tgtRange[0], max: tgtRange[1], position: 'right', z: 5,
    axisLine: { show: false }, splitLine: { show: false },
    axisTick: { show: true, inside: true, length: 4.5, customValues: legendTicks, lineStyle: { color: '#FFFFFF', width: 1 } },
    axisLabel: { customValues: legendTicks, color: '#000', fontSize: 11, margin: 7, fontFamily: font }
  });
  yLegL.push({
    type: 'value', gridIndex: 4 + i, min: tgtRange[0], max: tgtRange[1], position: 'left', z: 5,
    axisLine: { show: false }, splitLine: { show: false }, axisLabel: { show: false },
    axisTick: { show: true, inside: true, length: 4.5, customValues: legendTicks, lineStyle: { color: '#FFFFFF', width: 1 } }
  });

  titles.push({ text: panelTitles[i], left: 180.5 + ox, top: 3 + oy, textAlign: 'center',
    textStyle: { fontSize: 18, fontWeight: 'normal', color: '#000', fontFamily: font } });
  titles.push({ text: 'Tgt', left: 330 + ox, top: 84 + oy,
    textStyle: { fontSize: 14, fontWeight: 'normal', color: '#000', fontFamily: font } });

  series.push({
    type: 'scatter', xAxisIndex: i, yAxisIndex: i, data: panelData[i],
    symbolSize: 7, itemStyle: { opacity: 1 }, silent: true
  });
}
for (var j = 0; j < 4; j++) {
  var ox2 = (j % 2) * 400, oy2 = Math.floor(j / 2) * 325;
  grids.push({ left: 331 + ox2, top: 104 + oy2, width: 23, height: 119, show: false });
  series.push({
    type: 'custom', xAxisIndex: 8 + j, yAxisIndex: 8 + j, silent: true,
    data: [[0, tgtRange[0], tgtRange[1]]],
    renderItem: function (params, api) {
      var p0 = api.coord([0, api.value(2)]);
      var p1 = api.coord([1, api.value(1)]);
      return {
        type: 'rect',
        shape: { x: p0[0], y: p0[1], width: p1[0] - p0[0], height: p1[1] - p0[1] },
        style: { fill: new echarts.graphic.LinearGradient(0, 0, 0, 1, [
          { offset: 0, color: rampColors[4] }, { offset: 0.25, color: rampColors[3] },
          { offset: 0.5, color: rampColors[2] }, { offset: 0.75, color: rampColors[1] },
          { offset: 1, color: rampColors[0] }]) }
      };
    }
  });
}

var chart = echarts.init(document.getElementById('main'));
chart.setOption({
  animation: false,
  textStyle: { fontFamily: font },
  title: titles,
  grid: grids,
  xAxis: xAxes.concat(xMinor, xLeg),
  yAxis: yAxes.concat(yMinor, yLegR, yLegL),
  visualMap: {
    type: 'continuous', show: false, dimension: 2, seriesIndex: [0, 1, 2, 3],
    min: tgtRange[0], max: tgtRange[1], inRange: { color: rampColors }
  },
  series: series
});
</script>
</body>
</html>
